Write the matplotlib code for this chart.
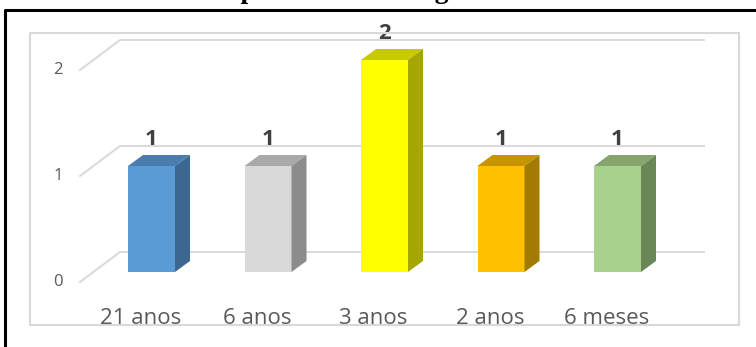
import numpy as np
import matplotlib.pyplot as plt
from matplotlib.patches import Polygon, Rectangle
from matplotlib.lines import Line2D

# data
categories = ['21 anos', '6 anos', '3 anos', '2 anos', '6 meses']
values = [1, 1, 2, 1, 1]
y_ticks = [0, 1, 2]
front_colors = ['#5B9BD5', '#D9D9D9', '#FFFF00', '#FFC000', '#A9D18E']
top_colors = ['#4A7DAE', '#A9A9A9', '#C9C900', '#C69500', '#84A56E']
side_colors = ['#3B6790', '#8C8C8C', '#A6A600', '#A37B00', '#6A8757']

W, H = 756, 347
fig = plt.figure(figsize=(W / 100, H / 100), dpi=100)
ax = fig.add_axes([0, 0, 1, 1])
ax.axis('off')

# pixel layout of the front plane
PX0, PY0, SX, SY = 151.5, 272, 116.5, 106
ax.set_xlim((0 - PX0) / SX, (W - PX0) / SX)
ax.set_ylim((PY0 - H) / SY, PY0 / SY)

bw = 47 / SX
dx, dy = 15 / SX, 11 / SY
grid_c = '#D9D9D9'

# floor/back gridlines with perspective slant
x_front = (80 - PX0) / SX
x_back = (120 - PX0) / SX
x_end = (704 - PX0) / SX
for t in y_ticks:
    yf = t - 10 / SY
    yb = t + 20 / SY
    ax.plot([x_front, x_back, x_end], [yf, yb, yb], color=grid_c, lw=1.4, zorder=1)
    ax.text((58 - PX0) / SX, yf, str(t), ha='center', va='center',
            fontsize=12, color='#595959', family='Open Sans')

x = np.arange(len(categories))
ax.bar(x, values, width=bw, color=front_colors, zorder=3)
for i, v in enumerate(values):
    xl, xr = x[i] - bw / 2, x[i] + bw / 2
    top = Polygon([(xl, v), (xr, v), (xr + dx, v + dy), (xl + dx, v + dy)],
                  closed=True, facecolor=top_colors[i], edgecolor='none', zorder=3)
    side = Polygon([(xr, 0), (xr + dx, dy), (xr + dx, v + dy), (xr, v)],
                   closed=True, facecolor=side_colors[i], edgecolor='none', zorder=3)
    ax.add_patch(top)
    ax.add_patch(side)
    ax.text(x[i], v + dy + 5 / SY, str(v), ha='center', va='bottom',
            fontsize=16, fontweight='bold', color='#404040', family='Open Sans')
    ax.text(x[i] - 11 / SX, (PY0 - 318) / SY, categories[i], ha='center', va='center',
            fontsize=16, color='#595959', family='Open Sans')

# inner chart border
fig.add_artist(Rectangle((30 / W, (H - 325) / H), 709 / W, 292 / H,
                         transform=fig.transFigure, fill=False,
                         edgecolor='#D9D9D9', lw=1.5))
# outer frame (cut off at right and bottom)
fig.add_artist(Line2D([5 / W, 5 / W, 1.0], [0.0, (H - 10) / H, (H - 10) / H],
                      transform=fig.transFigure, color='black', lw=2.2))

# title, mostly above the visible area
fig.text(189 / W, 1 + 2 / H, 'Tempo de uso de drogas', ha='left', va='baseline',
         fontsize=20, fontweight='bold', family='Liberation Serif')

fig.savefig('out.png', dpi=100)
